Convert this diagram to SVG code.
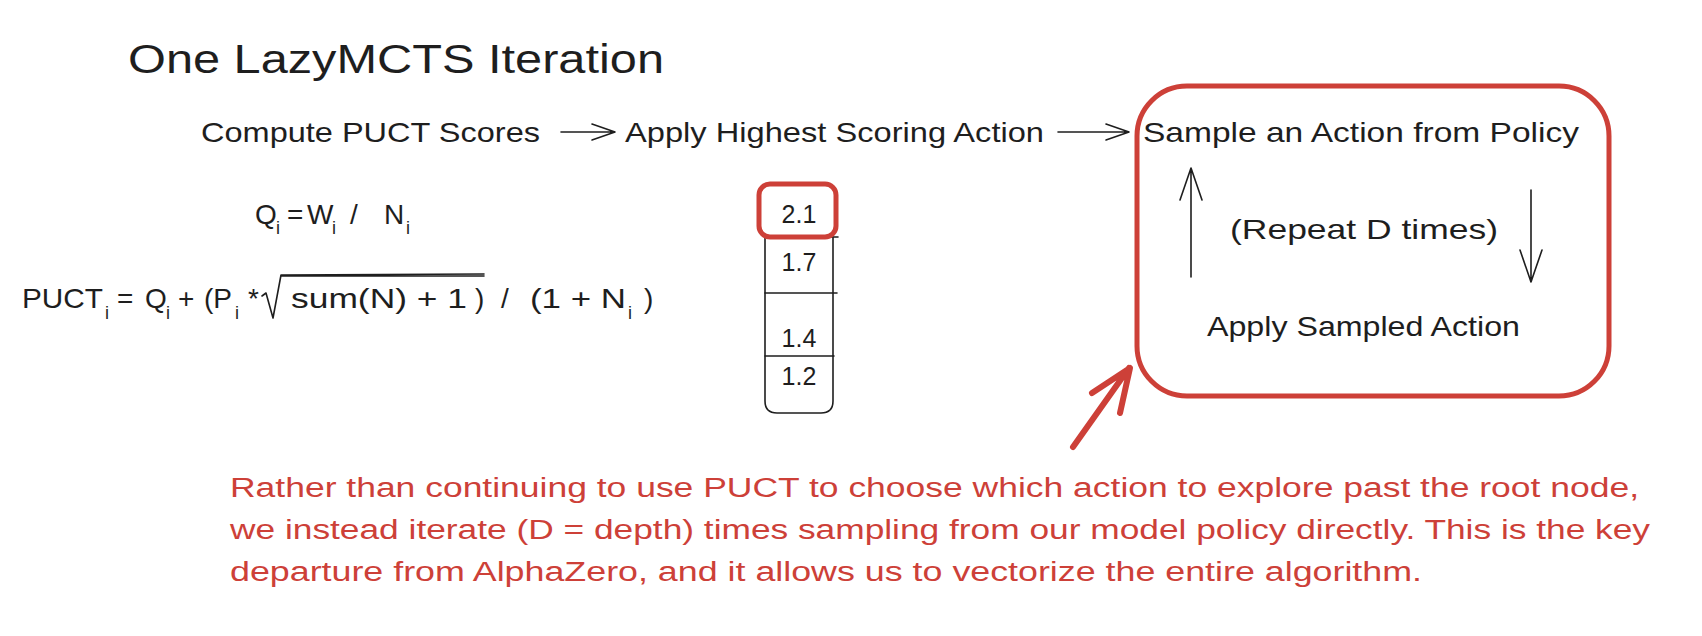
<svg xmlns="http://www.w3.org/2000/svg" width="1702" height="636" viewBox="0 0 1702 636">
<style>
  .t { font-family: "Liberation Sans", "DejaVu Sans", sans-serif; fill: #1e1e1e; }
  .lbl { font-size: 28px; }
  .sub { font-size: 18px; }
  .red { fill: #cd4038; font-size: 27px; }
  .ln { fill: none; stroke: #1e1e1e; stroke-width: 1.6; stroke-linecap: round; stroke-linejoin: round; }
  .rl { fill: none; stroke: #cd4038; stroke-linecap: round; stroke-linejoin: round; }
</style>
<rect width="1702" height="636" fill="#ffffff"/>

<g id="title">
  <text class="t" x="128" y="73" font-size="40" textLength="536" lengthAdjust="spacingAndGlyphs">One LazyMCTS Iteration</text>
</g>

<g id="compute">
  <text class="t lbl" x="201" y="142" textLength="339" lengthAdjust="spacingAndGlyphs">Compute PUCT Scores</text>
</g>
<g id="apply-highest">
  <text class="t lbl" x="625" y="142" textLength="419" lengthAdjust="spacingAndGlyphs">Apply Highest Scoring Action</text>
</g>
<g id="loop-box">
  <rect x="1137" y="86" width="472" height="310" rx="50" ry="50" class="rl" stroke-width="5"/>
  <text class="t lbl" x="1143" y="142" textLength="436" lengthAdjust="spacingAndGlyphs">Sample an Action from Policy</text>
  <text class="t lbl" x="1230" y="239" textLength="268" lengthAdjust="spacingAndGlyphs">(Repeat D times)</text>
  <text class="t lbl" x="1207" y="336" textLength="313" lengthAdjust="spacingAndGlyphs">Apply Sampled Action</text>
</g>

<g id="connectors">
  <path class="ln" d="M561 132 L614 132 M592 124 L615 132 L592 140"/>
  <path class="ln" d="M1058 132 L1128 132 M1106 124 L1129 132 L1106 140"/>
  <path class="ln" d="M1191 277 L1191 168 M1180 200 L1191 168 L1202 200"/>
  <path class="ln" d="M1531 190 L1531 282 M1520 250 L1531 282 L1542 250"/>
  <path class="rl" stroke-width="6" d="M1073 447 L1129 368 M1092 393 L1130 368 L1120 413"/>
</g>

<g id="q-formula">
  <text class="t lbl" x="255" y="224">Q</text>
  <text class="t sub" x="276" y="234">i</text>
  <text class="t lbl" x="287" y="224">=</text>
  <text class="t lbl" x="307" y="224">W</text>
  <text class="t sub" x="332" y="234">i</text>
  <text class="t lbl" x="350" y="224">/</text>
  <text class="t lbl" x="384" y="224">N</text>
  <text class="t sub" x="406" y="234">i</text>
</g>

<g id="puct-formula">
  <text class="t lbl" x="22" y="308" textLength="81" lengthAdjust="spacingAndGlyphs">PUCT</text>
  <text class="t sub" x="105" y="319">i</text>
  <text class="t lbl" x="117" y="308">=</text>
  <text class="t lbl" x="145" y="308">Q</text>
  <text class="t sub" x="166" y="319">i</text>
  <text class="t lbl" x="178" y="308">+</text>
  <text class="t lbl" x="204" y="308">(P</text>
  <text class="t sub" x="235" y="319">i</text>
  <text class="t lbl" x="248" y="308">*</text>
  <path class="ln" d="M262 296 L266 293 L273 318 L281 275 L484 274 M281 276 L484 276"/>
  <text class="t lbl" x="291" y="308" textLength="176" lengthAdjust="spacingAndGlyphs">sum(N) + 1</text>
  <text class="t lbl" x="475" y="308">)</text>
  <text class="t lbl" x="501" y="308">/</text>
  <text class="t lbl" x="530" y="308" textLength="96" lengthAdjust="spacingAndGlyphs">(1 + N</text>
  <text class="t sub" x="628" y="319">i</text>
  <text class="t lbl" x="644" y="308">)</text>
</g>

<g id="score-stack">
  <path class="ln" d="M765 237 L765 401 Q765 413 777 413 L821 413 Q833 413 833 401 L833 237"/>
  <path class="ln" d="M765 237 L838 237 M765 293 L837 293 M765 356 L834 356"/>
  <rect x="759" y="184" width="77" height="53" rx="11" ry="11" class="rl" stroke-width="5"/>
  <text class="t" x="799" y="223" font-size="25" text-anchor="middle">2.1</text>
  <text class="t" x="799" y="271" font-size="25" text-anchor="middle">1.7</text>
  <text class="t" x="799" y="347" font-size="25" text-anchor="middle">1.4</text>
  <text class="t" x="799" y="385" font-size="25" text-anchor="middle">1.2</text>
</g>

<g id="note">
  <text class="t red" x="230" y="497" textLength="1409" lengthAdjust="spacingAndGlyphs">Rather than continuing to use PUCT to choose which action to explore past the root node,</text>
  <text class="t red" x="230" y="539" textLength="1420" lengthAdjust="spacingAndGlyphs">we instead iterate (D = depth) times sampling from our model policy directly. This is the key</text>
  <text class="t red" x="230" y="581" textLength="1192" lengthAdjust="spacingAndGlyphs">departure from AlphaZero, and it allows us to vectorize the entire algorithm.</text>
</g>
</svg>
